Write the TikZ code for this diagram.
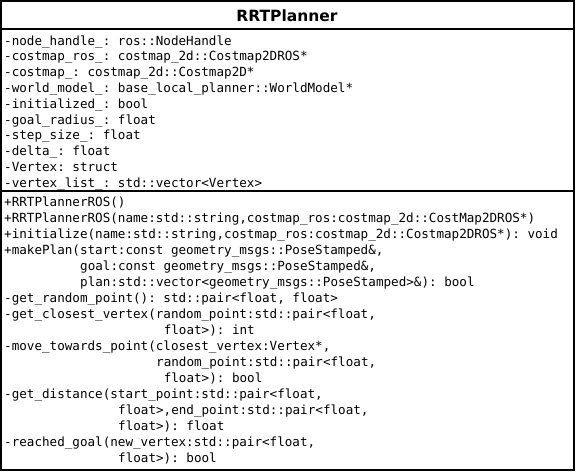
\documentclass[tikz,border=0pt]{standalone}
\usepackage{fontspec}
\newfontfamily\umlmono{DejaVu Sans Mono}
\newfontfamily\umlsans{DejaVu Sans}
\begin{document}
\frenchspacing
\begin{tikzpicture}[x=1pt,y=-1pt,
  member/.style={anchor=base west,inner sep=0pt,
    font=\umlmono\fontsize{12.6pt}{16pt}\selectfont\frenchspacing},
  classname/.style={anchor=base,inner sep=0pt,
    font=\umlsans\bfseries\fontsize{15.5pt}{18pt}\selectfont},
  frame/.style={draw=black,line width=2pt}]
\useasboundingbox (0,0) rectangle (576,472);

% class box and compartment separators
\draw[frame] (1,1) rectangle (573.5,470);
\draw[frame] (1,28.5) -- (573.5,28.5);
\draw[frame] (1,191) -- (573.5,191);

% class name
\node[classname] (title) at (287,21) {RRTPlanner};

% attributes
\node[member] (a0) at (4,45)    {-node\_handle\_: ros::NodeHandle};
\node[member] (a1) at (4,60.8)  {-costmap\_ros\_: costmap\_2d::Costmap2DROS*};
\node[member] (a2) at (4,76.6)  {-costmap\_: costmap\_2d::Costmap2D*};
\node[member] (a3) at (4,92.4)  {-world\_model\_: base\_local\_planner::WorldModel*};
\node[member] (a4) at (4,108.2) {-initialized\_: bool};
\node[member] (a5) at (4,124)   {-goal\_radius\_: float};
\node[member] (a6) at (4,139.8) {-step\_size\_: float};
\node[member] (a7) at (4,155.6) {-delta\_: float};
\node[member] (a8) at (4,171.4) {-Vertex: struct};
\node[member] (a9) at (4,187.2) {-vertex\_list\_: std::vector<Vertex>};

% operations
\node[member] (m0)  at (4,206) {+RRTPlannerROS()};
\node[member] (m1)  at (4,222) {+RRTPlannerROS(name:std::string,costmap\_ros:costmap\_2d::CostMap2DROS*)};
\node[member] (m2)  at (4,238) {+initialize(name:std::string,costmap\_ros:costmap\_2d::Costmap2DROS*): void};
\node[member] (m3)  at (4,254) {+makePlan(start:const geometry\_msgs::PoseStamped\&,};
\node[member] (m4)  at (80,270) {goal:const geometry\_msgs::PoseStamped\&,};
\node[member] (m5)  at (80,286) {plan:std::vector<geometry\_msgs::PoseStamped>\&): bool};
\node[member] (m6)  at (4,302) {-get\_random\_point(): std::pair<float, float>};
\node[member] (m7)  at (4,318) {-get\_closest\_vertex(random\_point:std::pair<float,};
\node[member] (m8)  at (163.6,334) {float>): int};
\node[member] (m9)  at (4,350) {-move\_towards\_point(closest\_vertex:Vertex*,};
\node[member] (m10) at (156,366) {random\_point:std::pair<float,};
\node[member] (m11) at (163.6,382) {float>): bool};
\node[member] (m12) at (4,398) {-get\_distance(start\_point:std::pair<float,};
\node[member] (m13) at (118,414) {float>,end\_point:std::pair<float,};
\node[member] (m14) at (118,430) {float>): float};
\node[member] (m15) at (4,446) {-reached\_goal(new\_vertex:std::pair<float,};
\node[member] (m16) at (118,462) {float>): bool};
\end{tikzpicture}
\end{document}
